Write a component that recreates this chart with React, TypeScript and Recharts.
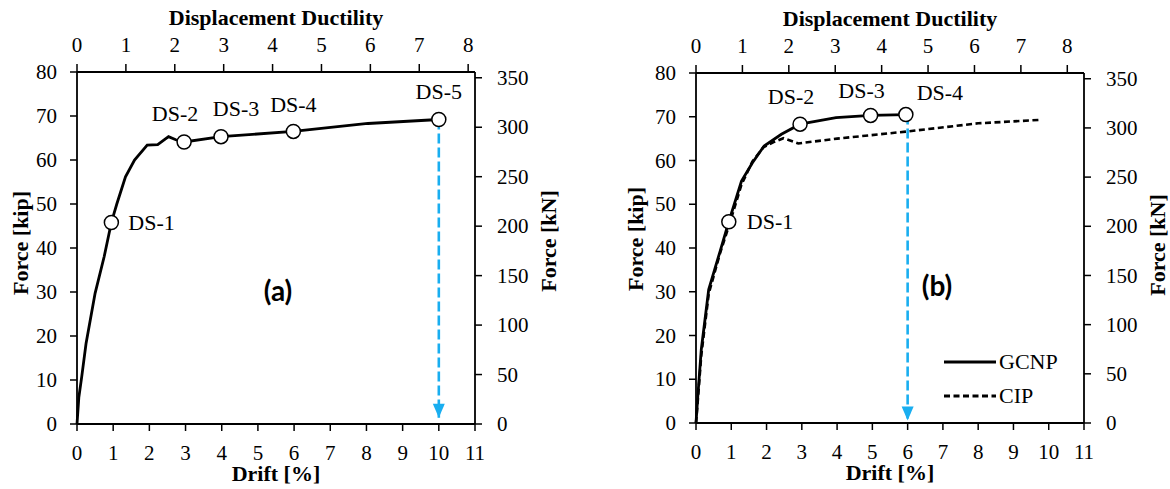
import React from "react";
import { ComposedChart, Line, XAxis, YAxis, Legend } from "recharts";

/* ── Shared axis ticks ─────────────────────────────── */
const driftTicks = [0, 1, 2, 3, 4, 5, 6, 7, 8, 9, 10, 11];
const ductTicks = [0, 1, 2, 3, 4, 5, 6, 7, 8];
const kipTicks = [0, 10, 20, 30, 40, 50, 60, 70, 80];
const kNTicks = [0, 50, 100, 150, 200, 250, 300, 350];
const KIP_TO_KN = 4.448;

/* ── Panel (a) ─────────────────────────────────────── */
const driftA = [0, 0.05, 0.13, 0.25, 0.5, 0.75, 0.95, 1.1, 1.34, 1.59, 1.94, 2.23, 2.53, 2.73, 2.96, 3.98, 5.98, 8.04, 10.0];
const forceA = [0, 6, 10.7, 18.3, 29.7, 38, 45.8, 50, 56.2, 60, 63.4, 63.5, 65.3, 64.6, 64.1, 65.3, 66.5, 68.3, 69.2];
const dsNamesA = ["DS-1", "DS-2", "DS-3", "DS-4", "DS-5"];
const dsDriftA = [0.95, 2.96, 3.98, 5.98, 10.0];
const dsForceA = [45.8, 64.1, 65.3, 66.5, 69.2];
const arrowDriftA = [10.0, 10.0];
const arrowForceA = [69.2, 1.4];

/* ── Panel (b) ─────────────────────────────────────── */
const driftGcnp = [0, 0.05, 0.15, 0.36, 0.67, 0.93, 1.29, 1.6, 1.93, 2.42, 2.95, 3.97, 4.95, 5.95];
const forceGcnp = [0, 6, 16.8, 30.5, 38.9, 46, 55.3, 59.5, 63.3, 66, 68.3, 69.8, 70.3, 70.5];
const driftCip = [0, 0.05, 0.15, 0.36, 0.67, 0.95, 1.29, 1.6, 1.91, 2.2, 2.48, 2.9, 4.0, 5.95, 8.0, 9.8];
const forceCip = [0, 5, 15.5, 29.5, 38.5, 45.5, 54.5, 59.8, 63.0, 64.2, 65.1, 63.9, 65.0, 66.6, 68.5, 69.3];
const dsNamesB = ["DS-1", "DS-2", "DS-3", "DS-4"];
const dsDriftB = [0.93, 2.95, 4.95, 5.95];
const dsForceB = [46.0, 68.3, 70.3, 70.5];
const arrowDriftB = [6.0, 6.0];
const arrowForceB = [70.5, 0.6];
const legendNames = ["GCNP", "CIP"];

/* ── Styling ───────────────────────────────────────── */
const SERIF = "'Liberation Serif'";
const BLUE = "#19aef0";
const CIP_DASH = "6 3.5";

// label placement relative to the marker (text centre / start)
const dsLabelPosA = [
	{ dx: 17, dy: 0, anchor: "start" },
	{ dx: -9, dy: -28, anchor: "middle" },
	{ dx: 15, dy: -28, anchor: "middle" },
	{ dx: 0, dy: -27, anchor: "middle" },
	{ dx: 0, dy: -28, anchor: "middle" },
];
const dsLabelPosB = [
	{ dx: 18, dy: 0, anchor: "start" },
	{ dx: -9, dy: -28, anchor: "middle" },
	{ dx: -9, dy: -25, anchor: "middle" },
	{ dx: 34, dy: -22, anchor: "middle" },
];

/* ── Helpers ───────────────────────────────────────── */
const toPoints = (xs: number[], ys: number[]) =>
	xs.map((x, i) => ({ drift: x, force: ys[i] }));

const toMarkers = (names: string[], xs: number[], ys: number[]) =>
	names.map((n, i) => ({ name: n, drift: xs[i], force: ys[i] }));

// invisible helper series so the top ductility axis gets drawn
const ductAnchor = ductTicks.map((d) => ({ duct: d, kn: 0 }));

const titleStyle = { fill: "#000", fontSize: 22, fontFamily: SERIF, fontWeight: 700 };
const axisLine = { stroke: "#000", strokeWidth: 1.8 };
const tickLine = { stroke: "#000", strokeWidth: 1.5 };

// serif tick labels, one renderer per axis side
const makeTick = (anchor: "start" | "middle" | "end", dy: string) => (p: any) => (
	<text
		key={p.index}
		x={p.x}
		y={p.y}
		dy={dy}
		textAnchor={anchor}
		fill="#000"
		fontSize={21}
		fontFamily={SERIF}
	>
		{p.payload.value}
	</text>
);
const bottomTick = makeTick("middle", "0.71em");
const topTick = makeTick("middle", "0");
const leftTick = makeTick("end", "0.34em");
const rightTick = makeTick("start", "0.34em");

const driftAxis = {
	xAxisId: "drift",
	type: "number" as const,
	dataKey: "drift",
	domain: [0, 11],
	ticks: driftTicks,
	interval: 0,
	height: 30,
	tickSize: 7,
	tickMargin: 14,
	axisLine,
	tickLine,
};
const ductAxis = {
	xAxisId: "duct",
	orientation: "top" as const,
	type: "number" as const,
	dataKey: "duct",
	ticks: ductTicks,
	interval: 0,
	height: 30,
	tickSize: 8,
	tickMargin: 12,
	axisLine,
	tickLine,
};
const kipAxis = {
	yAxisId: "kip",
	type: "number" as const,
	domain: [0, 80],
	ticks: kipTicks,
	interval: 0,
	width: 60,
	tickSize: 7,
	tickMargin: 13,
	axisLine,
	tickLine,
};
const kNAxis = {
	yAxisId: "kN",
	orientation: "right" as const,
	type: "number" as const,
	domain: [0, 80 * KIP_TO_KN],
	ticks: kNTicks,
	interval: 0,
	width: 60,
	tickSize: 7,
	tickMargin: 15,
	axisLine,
	tickLine,
};

function markerDot(pos: { dx: number; dy: number; anchor: string }[]) {
	return (p: any) => {
		const { cx, cy, index, payload } = p;
		const o = pos[index];
		return (
			<g key={`ds-${index}`}>
				<circle cx={cx} cy={cy} r={7} fill="#fff" stroke="#000" strokeWidth={1.5} />
				<text
					x={cx + o.dx}
					y={cy + o.dy}
					textAnchor={o.anchor as any}
					dominantBaseline="central"
					fontFamily={SERIF}
					fontSize={22}
					fill="#000"
				>
					{payload.name}
				</text>
			</g>
		);
	};
}

const arrowHead = (p: any) => {
	const { cx, cy, index } = p;
	if (index !== 1) return <g key={`ah-${index}`} />;
	return (
		<path
			key={`ah-${index}`}
			d={`M${cx - 6},${cy - 14} L${cx + 6},${cy - 14} L${cx},${cy} Z`}
			fill={BLUE}
		/>
	);
};

const panelLetter: React.CSSProperties = {
	position: "absolute",
	fontFamily: "Lato, 'Open Sans', sans-serif",
	fontWeight: 700,
	fontSize: 28,
	color: "#000",
	transform: "translate(-50%, -50%)",
};

function LegendBox() {
	return (
		<div style={{ fontFamily: SERIF, fontSize: 22, color: "#000" }}>
			{legendNames.map((n, i) => (
				<div key={n} style={{ display: "flex", alignItems: "center", height: 34 }}>
					<svg width={52} height={6}>
						<line
							x1={0}
							y1={3}
							x2={52}
							y2={3}
							stroke="#000"
							strokeWidth={2.8}
							strokeDasharray={i === 1 ? CIP_DASH : undefined}
						/>
					</svg>
					<span style={{ marginLeft: 3 }}>{n}</span>
				</div>
			))}
		</div>
	);
}

/* ── Panel (a) chart ───────────────────────────────── */
function PanelA() {
	const curve = toPoints(driftA, forceA);
	const marks = toMarkers(dsNamesA, dsDriftA, dsForceA);
	const arrow = toPoints(arrowDriftA, arrowForceA);
	return (
		<div style={{ position: "absolute", left: 0, top: 0, fontFamily: SERIF }}>
			<ComposedChart width={565} height={489} margin={{ top: 42, right: 30, bottom: 35, left: 17 }}>
				<XAxis
					{...driftAxis}
					tick={bottomTick}
					label={{ value: "Drift [%]", position: "bottom", offset: 11, ...titleStyle }}
				/>
				<XAxis
					{...ductAxis}
					domain={[0, 8.14]}
					tick={topTick}
					label={{ value: "Displacement Ductility", position: "top", offset: 17, ...titleStyle }}
				/>
				<YAxis
					{...kipAxis}
					tick={leftTick}
					label={{ value: "Force [kip]", angle: -90, position: "center", dx: -27, dy: -5, ...titleStyle }}
				/>
				<YAxis
					{...kNAxis}
					tick={rightTick}
					label={{ value: "Force [kN]", angle: -90, position: "center", dx: 43, dy: -7, ...titleStyle }}
				/>
				<Line
					xAxisId="duct"
					yAxisId="kN"
					data={ductAnchor}
					dataKey="kn"
					stroke="none"
					dot={false}
					activeDot={false}
					legendType="none"
					isAnimationActive={false}
				/>
				<Line
					xAxisId="drift"
					yAxisId="kip"
					data={arrow}
					dataKey="force"
					type="linear"
					stroke={BLUE}
					strokeWidth={2.6}
					strokeDasharray="10 4"
					dot={arrowHead}
					activeDot={false}
					isAnimationActive={false}
				/>
				<Line
					xAxisId="drift"
					yAxisId="kip"
					data={curve}
					dataKey="force"
					type="linear"
					stroke="#000"
					strokeWidth={2.8}
					dot={false}
					activeDot={false}
					isAnimationActive={false}
				/>
				<Line
					xAxisId="drift"
					yAxisId="kip"
					data={marks}
					dataKey="force"
					stroke="none"
					dot={markerDot(dsLabelPosA)}
					activeDot={false}
					isAnimationActive={false}
				/>
			</ComposedChart>
			<div style={{ ...panelLetter, left: 278, top: 290 }}>(a)</div>
		</div>
	);
}

/* ── Panel (b) chart ───────────────────────────────── */
function PanelB() {
	const gcnp = toPoints(driftGcnp, forceGcnp);
	const cip = toPoints(driftCip, forceCip);
	const marks = toMarkers(dsNamesB, dsDriftB, dsForceB);
	const arrow = toPoints(arrowDriftB, arrowForceB);
	return (
		<div style={{ position: "absolute", left: 600, top: 0, fontFamily: SERIF }}>
			<ComposedChart width={570} height={489} margin={{ top: 43, right: 26, bottom: 36, left: 36 }}>
				<XAxis
					{...driftAxis}
					tick={bottomTick}
					label={{ value: "Drift [%]", position: "bottom", offset: 11, ...titleStyle }}
				/>
				<XAxis
					{...ductAxis}
					domain={[0, 8.36]}
					tick={topTick}
					label={{ value: "Displacement Ductility", position: "top", offset: 17, ...titleStyle }}
				/>
				<YAxis
					{...kipAxis}
					tick={leftTick}
					label={{ value: "Force [kip]", angle: -90, position: "center", dx: -31, dy: -9, ...titleStyle }}
				/>
				<YAxis
					{...kNAxis}
					tick={rightTick}
					label={{ value: "Force [kN]", angle: -90, position: "center", dx: 43, dy: -3, ...titleStyle }}
				/>
				<Line
					xAxisId="duct"
					yAxisId="kN"
					data={ductAnchor}
					dataKey="kn"
					stroke="none"
					dot={false}
					activeDot={false}
					legendType="none"
					isAnimationActive={false}
				/>
				<Line
					xAxisId="drift"
					yAxisId="kip"
					data={cip}
					dataKey="force"
					type="linear"
					stroke="#000"
					strokeWidth={2.6}
					strokeDasharray={CIP_DASH}
					dot={false}
					activeDot={false}
					isAnimationActive={false}
				/>
				<Line
					xAxisId="drift"
					yAxisId="kip"
					data={arrow}
					dataKey="force"
					type="linear"
					stroke={BLUE}
					strokeWidth={2.6}
					strokeDasharray="10 4"
					dot={arrowHead}
					activeDot={false}
					isAnimationActive={false}
				/>
				<Line
					xAxisId="drift"
					yAxisId="kip"
					data={gcnp}
					dataKey="force"
					type="linear"
					stroke="#000"
					strokeWidth={2.8}
					dot={false}
					activeDot={false}
					isAnimationActive={false}
				/>
				<Line
					xAxisId="drift"
					yAxisId="kip"
					data={marks}
					dataKey="force"
					stroke="none"
					dot={markerDot(dsLabelPosB)}
					activeDot={false}
					isAnimationActive={false}
				/>
				<Legend
					layout="vertical"
					align="center"
					verticalAlign="middle"
					wrapperStyle={{ left: 344, top: 345, width: 140, height: 68 }}
					content={() => <LegendBox />}
				/>
			</ComposedChart>
			<div style={{ ...panelLetter, left: 337, top: 285 }}>(b)</div>
		</div>
	);
}

export default function App() {
	return (
		<div style={{ position: "absolute", left: 0, top: 0, width: 1170, height: 489, background: "#fff" }}>
			<PanelA />
			<PanelB />
		</div>
	);
}
